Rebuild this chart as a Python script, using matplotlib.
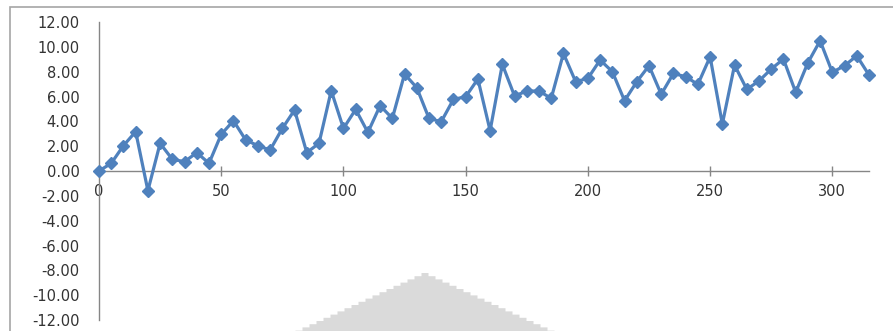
import numpy as np
import matplotlib
matplotlib.use("Agg")
import matplotlib.pyplot as plt
from matplotlib.patches import Rectangle, Polygon

# series sampled every 5 units
x_vals = list(range(0, 320, 5))
y_vals = [0.00, 0.62, 2.04, 3.17, -1.58, 2.23, 0.94, 0.75, 1.48, 0.62,
          2.95, 4.05, 2.50, 2.04, 1.69, 3.43, 4.91, 1.48, 2.23, 6.47,
          3.43, 4.96, 3.11, 5.26, 4.24, 7.81, 6.71, 4.24, 3.97, 5.77,
          5.98, 7.41, 3.25, 8.59, 6.04, 6.44, 6.44, 5.85, 9.47, 7.19,
          7.46, 8.94, 8.00, 5.66, 7.19, 8.48, 6.18, 7.86, 7.59, 6.98,
          9.20, 3.78, 8.53, 6.58, 7.25, 8.21, 9.02, 6.34, 8.72, 10.49,
          7.95, 8.48, 9.28, 7.73]
x_ticks = [0, 50, 100, 150, 200, 250, 300]
y_ticks = list(range(-12, 13, 2))

blue = "#4F81BD"
axis_grey = "#868686"

fig = plt.figure(figsize=(8.93, 3.31), dpi=100)
fig.patch.set_facecolor("white")

# chart frame
fig.add_artist(Rectangle((10 / 893, -0.1), 1.0, (331 - 7) / 331 + 0.1,
                         transform=fig.transFigure, fill=False,
                         edgecolor="#A6A6A6", lw=1.2, zorder=0))

# faint stepped grey shape at the bottom
W, H = 893.0, 331.0
peak_x, peak_y = 425, 273
step_w, step_h = 7, 3.2
n = 19
left = [(peak_x - 128, 331)]
for i in range(n, -1, -1):
    xs = peak_x - i * step_w - 0.5 * step_w
    ys = peak_y + i * step_h
    left += [(xs, ys + step_h), (xs, ys)]
right = [(2 * peak_x - px, py) for px, py in reversed(left)]
poly = [(px / W, 1 - py / H) for px, py in left + right]
fig.add_artist(Polygon(poly, closed=True, transform=fig.transFigure,
                       facecolor="#DADADA", edgecolor="none", zorder=0))

ax = fig.add_axes([99 / 893, 1 - 320 / 331, (869 - 99) / 893, (320 - 22) / 331])
ax.patch.set_visible(False)
ax.plot(x_vals, y_vals, color=blue, lw=2.3, marker="D", markersize=6.5,
        markerfacecolor=blue, markeredgecolor=blue, clip_on=False, zorder=3)

ax.set_xlim(0, 315)
ax.set_ylim(-12, 12)
ax.spines["top"].set_visible(False)
ax.spines["right"].set_visible(False)
ax.spines["bottom"].set_position(("data", 0))
for s in ("left", "bottom"):
    ax.spines[s].set_color(axis_grey)
    ax.spines[s].set_linewidth(1.0)

ax.set_xticks(x_ticks)
ax.set_xticklabels([str(t) for t in x_ticks])
ax.set_yticks(y_ticks)
ax.set_yticklabels(["%.2f" % t for t in y_ticks])
ax.tick_params(axis="x", direction="inout", length=7, width=1,
               color=axis_grey, labelsize=10.5, labelcolor="#333333", pad=6)
ax.tick_params(axis="y", length=0, labelsize=10.5, labelcolor="#333333", pad=14)

fig.savefig("out.png", dpi=100)
